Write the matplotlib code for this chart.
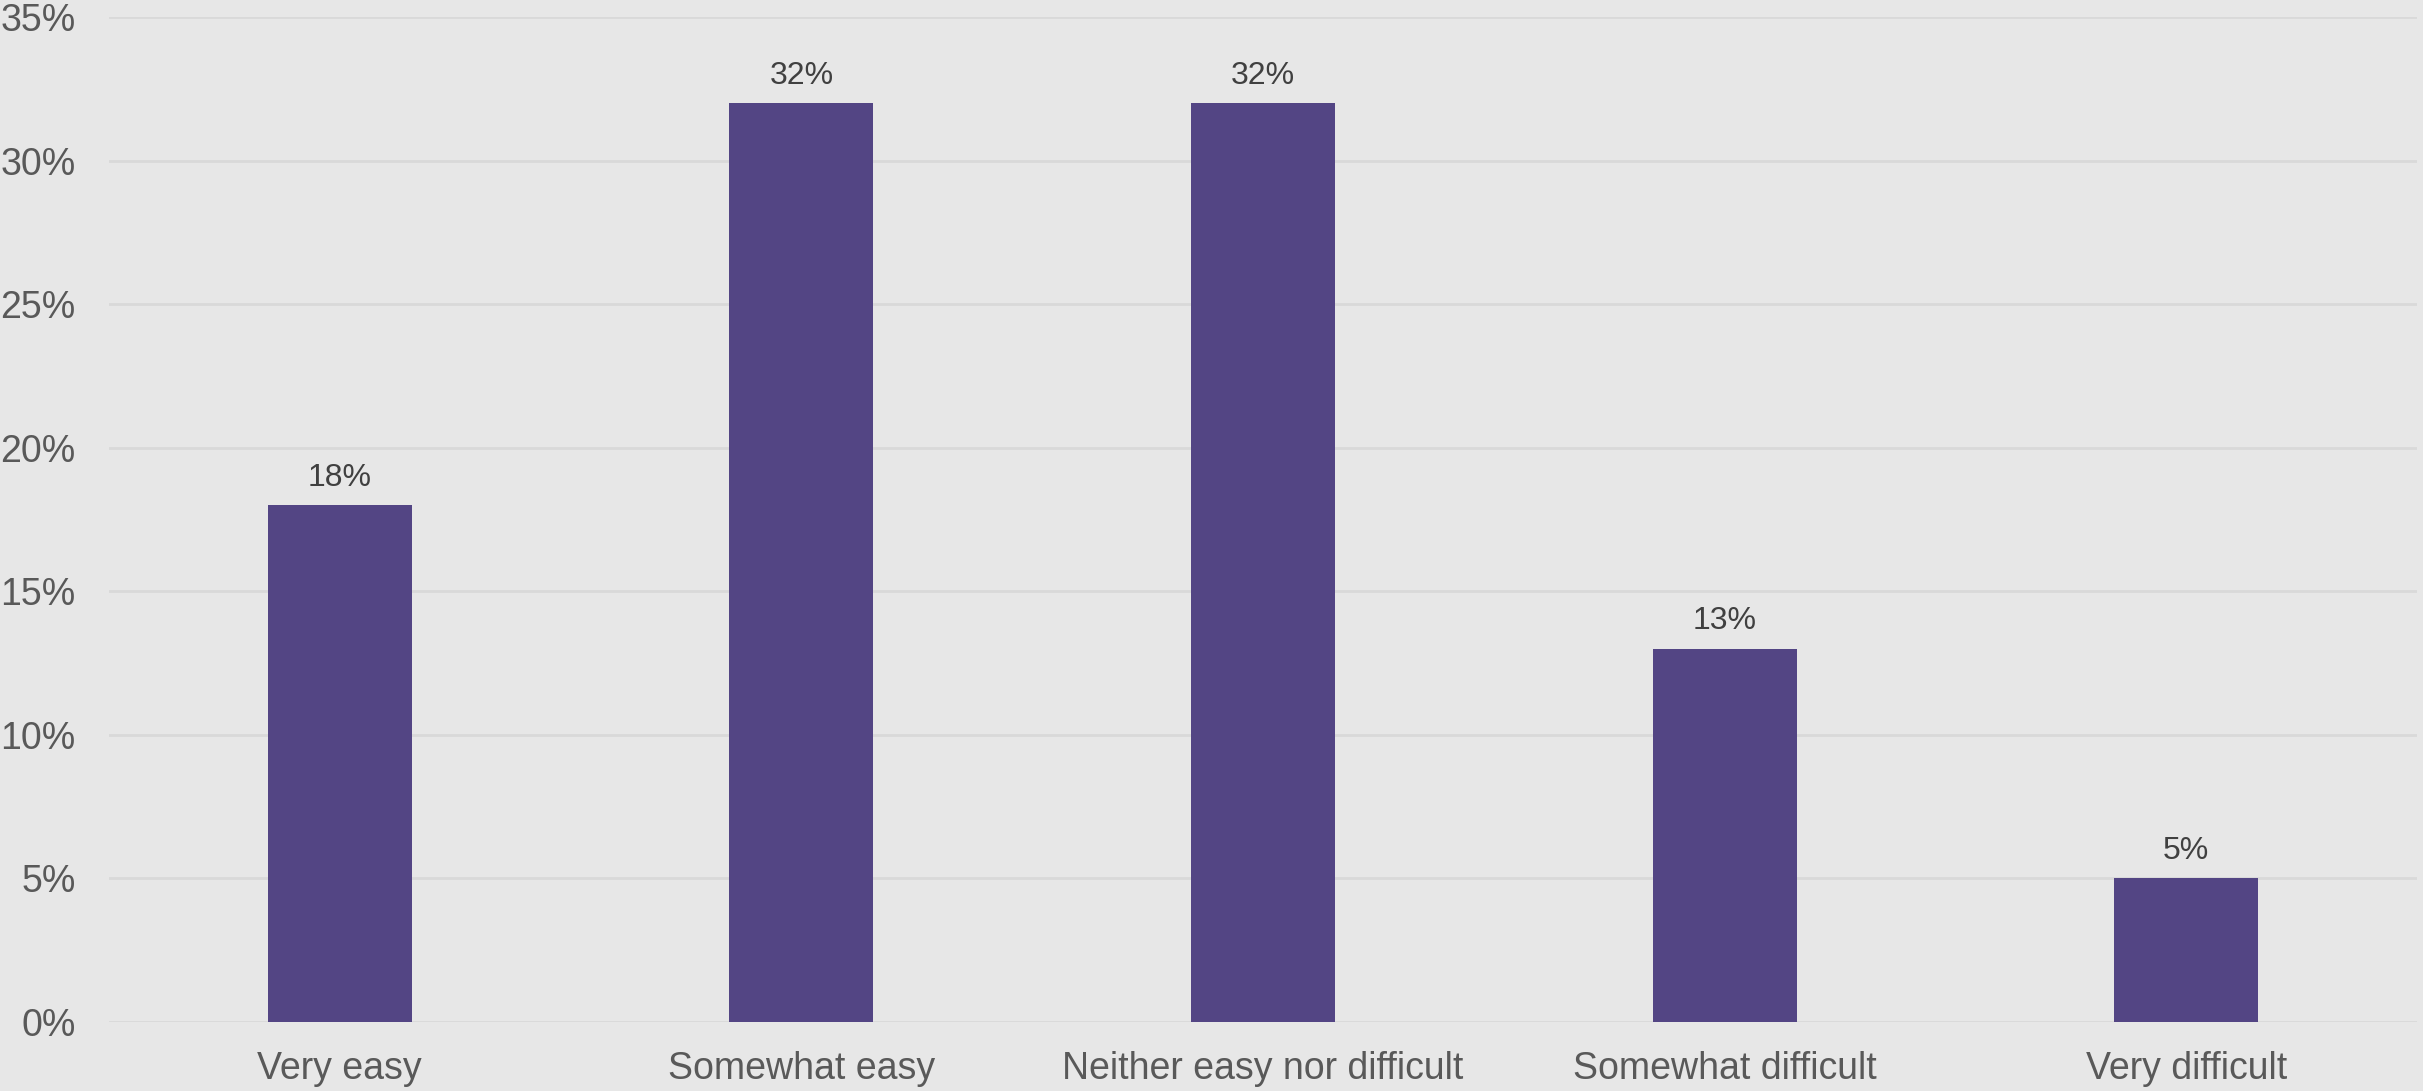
import matplotlib.pyplot as plt
from matplotlib.ticker import FuncFormatter

categories = ['Very easy', 'Somewhat easy', 'Neither easy nor difficult',
              'Somewhat difficult', 'Very difficult']
values = [18, 32, 32, 13, 5]

plt.rcParams['font.family'] = ['Liberation Sans', 'DejaVu Sans']

fig = plt.figure(figsize=(24.23, 10.91), dpi=100, facecolor='#e7e7e7')
ax = fig.add_axes([109 / 2423, 1 - 1022 / 1091, 2308 / 2423, 1005 / 1091])
ax.set_facecolor('#e7e7e7')

x = range(len(categories))
bars = ax.bar(x, values, width=0.312, color='#534584', zorder=3)

for b, v in zip(bars, values):
    ax.annotate(f'{v}%', (b.get_x() + b.get_width() / 2, v),
                xytext=(0, 9), textcoords='offset points',
                ha='center', va='bottom', fontsize=23, color='#404040')

ax.set_xlim(-0.5, len(categories) - 0.5)
ax.set_ylim(0, 35)
ax.set_yticks(range(0, 36, 5))
ax.yaxis.set_major_formatter(FuncFormatter(lambda v, p: f'{v:.0f}%'))
ax.set_xticks(list(x))
ax.set_xticklabels(categories)
ax.tick_params(axis='both', length=0, labelsize=27, labelcolor='#595959')
ax.tick_params(axis='y', pad=24)
ax.tick_params(axis='x', pad=21)

ax.grid(axis='y', color='#d9d9d9', linewidth=2, zorder=0)
for s in ax.spines.values():
    s.set_visible(False)

fig.savefig('out.png', dpi=100, facecolor=fig.get_facecolor())
